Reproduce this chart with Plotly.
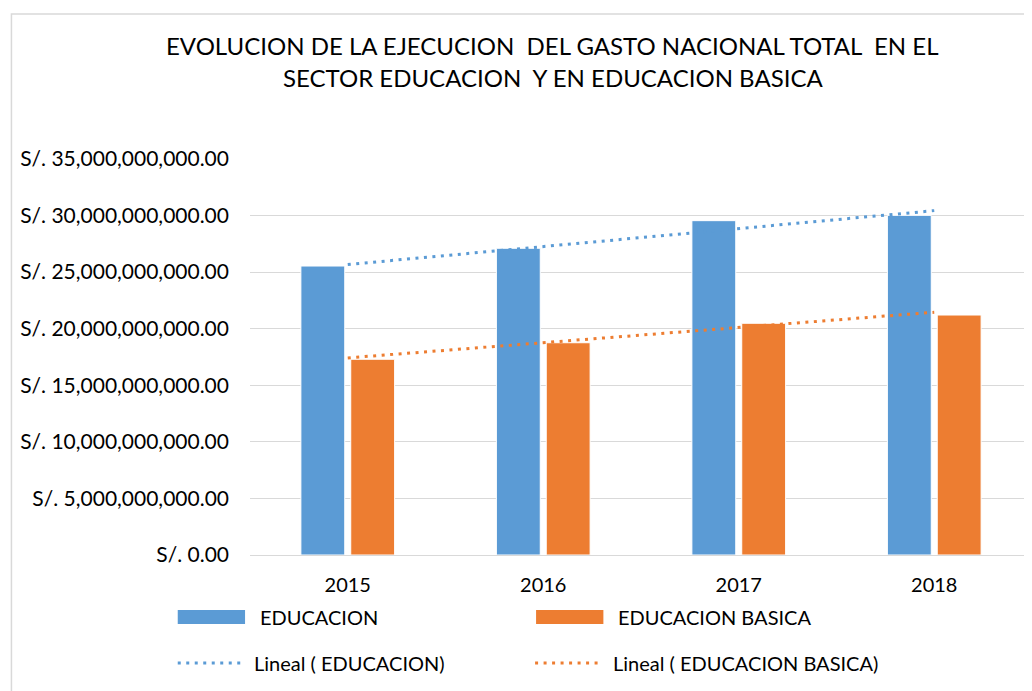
import numpy as np
import plotly.graph_objects as go

years = ['2015', '2016', '2017', '2018']
educacion = [25.54e9, 27.11e9, 29.55e9, 30.02e9]
educacion_basica = [17.30e9, 18.76e9, 20.48e9, 21.21e9]
series_names = ['EDUCACION', 'EDUCACION BASICA']
y_ticks = [0, 5e9, 10e9, 15e9, 20e9, 25e9, 30e9, 35e9]
y_ticktext = ['S/. {:,.2f}'.format(v) for v in y_ticks]
title_lines = ['EVOLUCION DE LA EJECUCION \u00a0DEL GASTO NACIONAL TOTAL \u00a0EN EL',
               'SECTOR EDUCACION \u00a0Y EN EDUCACION BASICA']

BLUE = '#5B9BD5'
ORANGE = '#ED7D31'
GRID = '#D9D9D9'
FONT = 'Lato'

# page is offset by the 8px body margin, so work in page pixels and shift
OFF = 8
W, H = 1032 - OFF, 691 - OFF
L, R, T, B = 250 - OFF, 1040 - OFF, 159 - OFF, 555 - OFF


def px(x):
    return (x - OFF - L) / (R - L)


def py(y):
    return (B - (y - OFF)) / (B - T)


def trend(values):
    idx = np.arange(1, len(values) + 1)
    slope, icpt = np.polyfit(idx, values, 1)
    return slope * idx + icpt


fig = go.Figure()

fig.add_trace(go.Bar(x=years, y=educacion, name=series_names[0],
                     marker=dict(color=BLUE, line=dict(color='white', width=1))))
fig.add_trace(go.Bar(x=years, y=educacion_basica, name=series_names[1],
                     marker=dict(color=ORANGE, line=dict(color='white', width=1))))

fig.add_trace(go.Scatter(x=years, y=trend(educacion), mode='lines',
                         name='Lineal ( EDUCACION)',
                         line=dict(color=BLUE, width=3, dash='3px,5.5px')))
fig.add_trace(go.Scatter(x=years, y=trend(educacion_basica), mode='lines',
                         name='Lineal ( EDUCACION BASICA)',
                         line=dict(color=ORANGE, width=3, dash='3px,5.5px')))

# legend drawn by hand (Excel-style wide swatches, 2 columns)
shapes = [
    # chart area border
    dict(type='rect', xref='paper', yref='paper', x0=px(9), x1=px(1060), y0=py(710), y1=py(14),
         line=dict(color=GRID, width=1.5), fillcolor='rgba(0,0,0,0)', layer='below'),
    dict(type='rect', xref='paper', yref='paper', x0=px(177), x1=px(245), y0=py(624), y1=py(610),
         fillcolor=BLUE, line=dict(width=0)),
    dict(type='rect', xref='paper', yref='paper', x0=px(539), x1=px(607), y0=py(624), y1=py(610),
         fillcolor=ORANGE, line=dict(width=0)),
    dict(type='line', xref='paper', yref='paper', x0=px(177), x1=px(241), y0=py(663), y1=py(663),
         line=dict(color=BLUE, width=3, dash='3px,5.5px')),
    dict(type='line', xref='paper', yref='paper', x0=px(538), x1=px(602), y0=py(663), y1=py(663),
         line=dict(color=ORANGE, width=3, dash='3px,5.5px')),
]
legend_texts = [
    (258, 617, series_names[0]),
    (620, 617, series_names[1]),
    (252, 663, 'Lineal ( EDUCACION)'),
    (615, 663, 'Lineal ( EDUCACION BASICA)'),
]
annotations = [dict(x=px(x), y=py(y), xref='paper', yref='paper', text=t, showarrow=False,
                    xanchor='left', yanchor='middle', font=dict(size=20, color='black'))
               for x, y, t in legend_texts]
# two-line chart title
for yy, line in zip([45, 78], title_lines):
    annotations.append(dict(x=px(556), y=py(yy), xref='paper', yref='paper', text=line,
                            showarrow=False, xanchor='center', yanchor='middle',
                            font=dict(size=24, color='black')))

fig.update_layout(
    width=W, height=H,
    margin=dict(l=L, r=max(W - R, 0), t=T, b=H - B, autoexpand=False),
    plot_bgcolor='white', paper_bgcolor='white',
    font=dict(family=FONT, size=20, color='black'),
    barmode='group', bargap=0.49, bargroupgap=0.12,
    showlegend=False,
    xaxis=dict(showgrid=False, showline=False, ticks='', ticklabelstandoff=16,
               tickfont=dict(size=20)),
    yaxis=dict(range=[0, 35e9], tickvals=y_ticks, ticktext=y_ticktext,
               showgrid=True, gridcolor=GRID, gridwidth=1.3, zeroline=True,
               zerolinecolor=GRID, zerolinewidth=1.3, ticks='', ticklabelstandoff=20,
               tickfont=dict(size=21)),
    shapes=shapes,
    annotations=annotations,
)

fig.write_html('out.html')
